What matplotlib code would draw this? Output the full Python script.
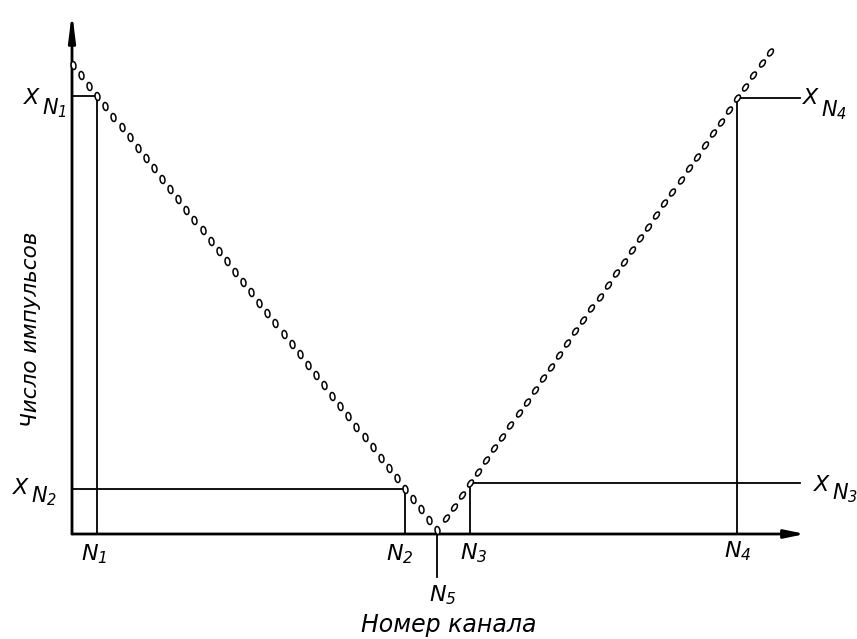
import numpy as np
import matplotlib.pyplot as plt
from matplotlib.markers import MarkerStyle
from matplotlib.transforms import Affine2D

# channel numbers and counts
channels = list(range(87))
counts = [469, 459, 448, 438, 428, 417, 407, 397, 386, 376,
          366, 355, 345, 335, 324, 314, 304, 293, 283, 273,
          262, 252, 242, 231, 221, 211, 200, 190, 180, 169,
          159, 149, 138, 128, 118, 107, 97, 87, 76, 66,
          56, 45, 35, 25, 14, 4,
          16, 27, 39, 51, 62, 74, 86, 97, 109, 121,
          132, 144, 156, 167, 179, 191, 203, 214, 226, 237,
          249, 261, 272, 284, 296, 307, 319, 331, 342, 354,
          366, 377, 389, 401, 412, 424, 436, 447, 459, 471, 482]

N1, N2, N5, N3, N4 = 3, 41, 45, 49, 82
x_end = 89.75

plt.rcParams['mathtext.fontset'] = 'custom'
plt.rcParams['mathtext.it'] = 'DejaVu Sans:italic'
plt.rcParams['mathtext.rm'] = 'DejaVu Sans:italic'

fig = plt.figure(figsize=(8.57, 6.39), dpi=100)
ax = fig.add_axes([72 / 857, 105 / 639, 733 / 857, 522 / 639])
ax.set_xlim(-0.123, 90.37)
ax.set_ylim(0, 522)
ax.axis('off')

# axes with arrows
ax.annotate('', xy=(1, 0), xytext=(0, 0), xycoords='axes fraction',
            arrowprops=dict(arrowstyle='-|>,head_length=1.2,head_width=0.25',
                            color='black', lw=2, shrinkA=0, shrinkB=0))
ax.annotate('', xy=(0, 1), xytext=(0, 0), xycoords='axes fraction',
            arrowprops=dict(arrowstyle='-|>,head_length=1.6,head_width=0.2',
                            color='black', lw=2, shrinkA=0, shrinkB=0))

# guide lines
lw = 1.3
ax.plot([0, N1], [counts[N1]] * 2, color='black', lw=lw)
ax.plot([N1, N1], [0, counts[N1]], color='black', lw=lw)
ax.plot([0, N2], [counts[N2]] * 2, color='black', lw=lw)
ax.plot([N2, N2], [0, counts[N2]], color='black', lw=lw)
ax.plot([N3, x_end], [counts[N3]] * 2, color='black', lw=lw, clip_on=False)
ax.plot([N3, N3], [0, counts[N3]], color='black', lw=lw)
ax.plot([N4, x_end], [counts[N4]] * 2, color='black', lw=lw, clip_on=False)
ax.plot([N4, N4], [0, counts[N4]], color='black', lw=lw)
ax.plot([N5, N5], [-43, counts[N5]], color='black', lw=lw, clip_on=False)

# data points
left_m = MarkerStyle('o', transform=Affine2D().scale(0.6, 1.0).rotate_deg(10))
right_m = MarkerStyle('o', transform=Affine2D().scale(0.55, 1.0).rotate_deg(-35))
ax.plot(channels[:N5 + 1], counts[:N5 + 1], linestyle='none', marker=left_m,
        ms=5.8, mfc='white', mec='black', mew=1.1, clip_on=False, zorder=5)
ax.plot(channels[N5 + 1:], counts[N5 + 1:], linestyle='none', marker=right_m,
        ms=5.8, mfc='white', mec='black', mew=1.1, clip_on=False, zorder=5)


def label(x, y, text, dx, dy, size=16, ha='center'):
    ax.annotate(text, xy=(x, y), xytext=(dx, dy), textcoords='offset pixels',
                fontsize=size, ha=ha, va='center', annotation_clip=False)


def xlabel_pair(x, y, k, split, dy_x, dy_n):
    # big X, then N_k lowered just to the right of it
    label(x, y, r'$X$', split, dy_x, 16, ha='right')
    label(x, y, r'$N_%d$' % k, split, dy_n, 15, ha='left')


xlabel_pair(0, counts[N1], 1, -31, -2, -12)
xlabel_pair(0, counts[N2], 2, -42, 1, -7)
xlabel_pair(x_end, counts[N3], 3, 32, -2, -10)
xlabel_pair(x_end, counts[N4], 4, 21, 0, -12)

# channel labels
label(N1, 0, r'$N_1$', -3, -20)
label(N2, 0, r'$N_2$', -5, -20)
label(N3, 0, r'$N_3$', 4, -19)
label(N4, 0, r'$N_4$', 0, -17)
label(N5, 0, r'$N_5$', 5, -61)

label(N5, 0, 'Номер канала', 11, -91, 17)
ax.texts[-1].set_style('italic')
ax.text(-5.2, 205, 'Число импульсов', fontsize=15.5, style='italic',
        rotation=90, ha='center', va='center', clip_on=False)

fig.savefig('out.png', dpi=100)
